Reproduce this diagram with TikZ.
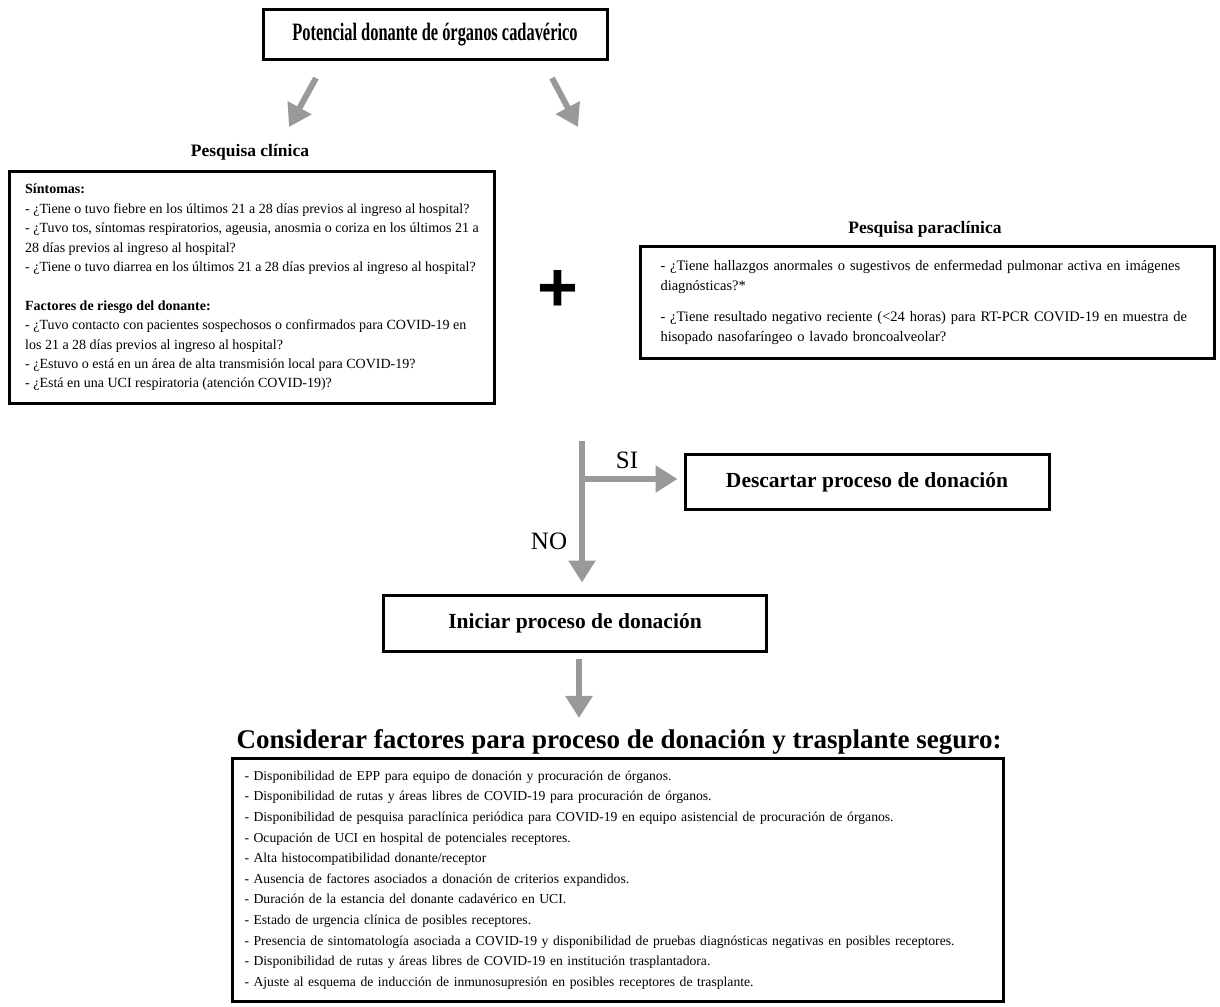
\documentclass[tikz,border=0pt]{standalone}
\usepackage{fontspec}
\setmainfont{Liberation Serif}
\newfontfamily\titlefont[FakeStretch=0.656]{Liberation Serif}
\newfontfamily\plusfont{Liberation Sans}
\usetikzlibrary{arrows.meta}
\definecolor{arrowgray}{RGB}{153,153,153}

\begin{document}
\begin{tikzpicture}[
    x=1pt, y=-1pt,
    box/.style={draw, line width=3pt, inner sep=0pt},
    heading/.style={font=\fontsize{17.5}{20}\selectfont\bfseries},
    stepname/.style={box, font=\fontsize{21.5}{24}\selectfont\bfseries},
    question/.style={box, anchor=north west, align=left, font=\fontsize{14}{19.4}\selectfont},
    answer/.style={font=\fontsize{25}{28}\selectfont},
    arr/.style={draw=arrowgray, line width=6pt, -{Triangle[width=26pt,length=22pt]}}
    ]
  \useasboundingbox (0,0) rectangle (1220,1006);

  \node [box, minimum width=344pt, minimum height=50pt,
         font=\titlefont\fontsize{25}{28}\selectfont\bfseries] (donante) at (435,35)
        {Potencial donante de órganos cadavérico};

  \coordinate (l1) at (316,78);
  \coordinate (l2) at (289,127);
  \coordinate (r1) at (552,78);
  \coordinate (r2) at (578,127);
  \draw [arr] (l1) -- (l2);
  \draw [arr] (r1) -- (r2);

  \node [heading] (clinica) at (250,152) {Pesquisa clínica};
  \node [question, minimum width=485pt, minimum height=232pt] (sintomas) at (8,170)
        {\textbf{Síntomas:}\\
         - ¿Tiene o tuvo fiebre en los últimos 21 a 28 días previos al ingreso al hospital?\\
         - ¿Tuvo tos, síntomas respiratorios, ageusia, anosmia o coriza en los últimos 21 a\\
         28 días previos al ingreso al hospital?\\
         - ¿Tiene o tuvo diarrea en los últimos 21 a 28 días previos al ingreso al hospital?\\[19.4pt]
         \textbf{Factores de riesgo del donante:}\\
         - ¿Tuvo contacto con pacientes sospechosos o confirmados para COVID-19 en\\
         los 21 a 28 días previos al ingreso al hospital?\\
         - ¿Estuvo o está en un área de alta transmisión local para COVID-19?\\
         - ¿Está en una UCI respiratoria (atención COVID-19)?};

  \node [font=\plusfont\fontsize{70}{70}\selectfont\bfseries] (mas) at (558,291) {+};

  \node [heading] (paraclinica) at (925,229) {Pesquisa paraclínica};
  \node [question, minimum width=574pt, minimum height=112pt, text width=534pt, inner xsep=20pt,
         font=\fontsize{14.5}{19.5}\selectfont] (imagenes) at (639,245)
        {- ¿Tiene hallazgos anormales o sugestivos de enfermedad pulmonar activa en imágenes\\
         diagnósticas?*\\[12pt]
         - ¿Tiene resultado negativo reciente (<24 horas) para RT-PCR COVID-19 en muestra de\\
         hisopado nasofaríngeo o lavado broncoalveolar?};

  \coordinate (merge) at (582,441);
  \coordinate (split) at (582,479);
  \node [stepname, minimum width=364pt, minimum height=55pt] (descartar) at (867,482) {Descartar proceso de donación};
  \node [stepname, minimum width=383pt, minimum height=56pt] (iniciar) at (575,623) {Iniciar proceso de donación};
  \draw [arr, shorten >=11pt] (merge) -- (merge |- iniciar.north);
  \draw [arr, shorten >=6pt] (split) -- (split -| descartar.west);
  \node [answer] (si) at (627,460) {SI};
  \node [answer] (no) at (549,541) {NO};

  \node [font=\fontsize{27}{30}\selectfont\bfseries] (factores) at (619,742)
        {Considerar factores para proceso de donación y trasplante seguro:};
  \draw [arr, shorten <=6pt, shorten >=8pt] ([xshift=4pt]iniciar.south) -- ([xshift=4pt]iniciar.south |- factores.north);

  \node [question, minimum width=771pt, minimum height=243pt, text width=747pt, inner xsep=12pt,
         font=\fontsize{13.65}{20.6}\selectfont] (seguro) at (231,757)
        {- Disponibilidad de EPP para equipo de donación y procuración de órganos.\\
         - Disponibilidad de rutas y áreas libres de COVID-19 para procuración de órganos.\\
         - Disponibilidad de pesquisa paraclínica periódica para COVID-19 en equipo asistencial de procuración de órganos.\\
         - Ocupación de UCI en hospital de potenciales receptores.\\
         - Alta histocompatibilidad donante/receptor\\
         - Ausencia de factores asociados a donación de criterios expandidos.\\
         - Duración de la estancia del donante cadavérico en UCI.\\
         - Estado de urgencia clínica de posibles receptores.\\
         - Presencia de sintomatología asociada a COVID-19 y disponibilidad de pruebas diagnósticas negativas en posibles receptores.\\
         - Disponibilidad de rutas y áreas libres de COVID-19 en institución trasplantadora.\\
         - Ajuste al esquema de inducción de inmunosupresión en posibles receptores de trasplante.};
\end{tikzpicture}
\end{document}
